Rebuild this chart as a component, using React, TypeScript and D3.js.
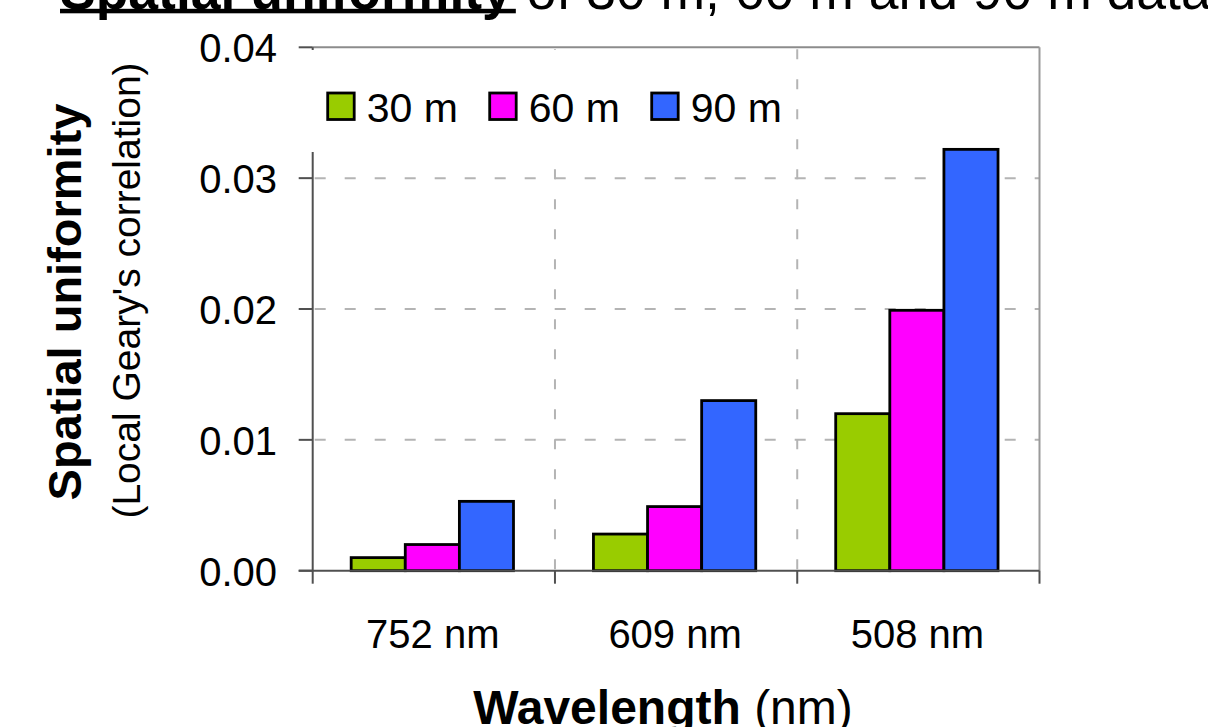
import React, { useEffect, useRef } from 'react';
import * as d3 from 'd3';

const categories = ['752 nm', '609 nm', '508 nm'];
const seriesNames = ['30 m', '60 m', '90 m'];
const seriesColors = ['#99CC00', '#FF00FF', '#3366FF'];
const values30 = [0.001, 0.0028, 0.012];
const values60 = [0.002, 0.0049, 0.0199];
const values90 = [0.0053, 0.013, 0.0322];
const yTicks = [0, 0.01, 0.02, 0.03, 0.04];
const yTickLabels = ['0.00', '0.01', '0.02', '0.03', '0.04'];
const titleBold = 'Spatial uniformity';
const titleRest = ' of 30 m, 60 m and 90 m data';

const W = 1208;
const H = 727;
const FONT = '"Liberation Sans", Arial, sans-serif';

export default function App() {
  const ref = useRef<SVGSVGElement | null>(null);

  useEffect(() => {
    const svg = d3.select(ref.current);
    svg.selectAll('*').remove();

    const left = 312.7, right = 1039.5, top = 47.3, bottom = 570.7;
    const x = d3.scaleBand<string>().domain(categories).range([left, right]).paddingInner(0).paddingOuter(0);
    const bw = x.bandwidth();
    const groupW = bw * 0.67;
    const xs = d3.scaleBand<string>().domain(seriesNames).range([(bw - groupW) / 2 - 1.5, (bw + groupW) / 2 - 1.5]).padding(0);
    const y = d3.scaleLinear().domain([0, 0.04]).range([bottom, top]);

    const series = [values30, values60, values90];

    // horizontal gridlines
    svg.append('g').selectAll('line').data(yTicks.filter(t => t > 0 && t < 0.04)).join('line')
      .attr('x1', left + 2).attr('x2', right).attr('y1', d => y(d)).attr('y2', d => y(d))
      .attr('stroke', '#b4b4b4').attr('stroke-width', 2).attr('stroke-dasharray', '11 19');

    // vertical dashed dividers
    const dividers = categories.slice(1).map(c => x(c) as number);
    svg.append('g').selectAll('line').data(dividers).join('line')
      .attr('x1', d => d).attr('x2', d => d).attr('y1', top + 2).attr('y2', bottom)
      .attr('stroke', '#b4b4b4').attr('stroke-width', 2).attr('stroke-dasharray', '10 20');

    // bars
    const bars = svg.append('g');
    series.forEach((vals, si) => {
      bars.append('g').selectAll('rect').data(vals).join('rect')
        .attr('x', (d, i) => (x(categories[i]) as number) + (xs(seriesNames[si]) as number))
        .attr('y', d => y(d))
        .attr('width', xs.bandwidth())
        .attr('height', d => y(0) - y(d))
        .attr('fill', seriesColors[si])
        .attr('stroke', '#000').attr('stroke-width', 2.8);
    });

    // frame top & right
    svg.append('line').attr('x1', left).attr('x2', right).attr('y1', top).attr('y2', top)
      .attr('stroke', '#8c8c8c').attr('stroke-width', 2);
    svg.append('line').attr('x1', right).attr('x2', right).attr('y1', top).attr('y2', bottom)
      .attr('stroke', '#9a9a9a').attr('stroke-width', 2);

    // left axis
    svg.append('line').attr('x1', left).attr('x2', left).attr('y1', top).attr('y2', bottom)
      .attr('stroke', '#505050').attr('stroke-width', 2);
    svg.append('g').selectAll('line').data(yTicks).join('line')
      .attr('x1', left - 14).attr('x2', left).attr('y1', d => y(d)).attr('y2', d => y(d))
      .attr('stroke', '#505050').attr('stroke-width', 2);
    svg.append('g').selectAll('text').data(yTicks).join('text')
      .attr('x', 277).attr('y', d => y(d) + 15)
      .attr('text-anchor', 'end').attr('font-family', FONT).attr('font-size', 40).attr('fill', '#000')
      .text((d, i) => yTickLabels[i]);

    // bottom axis
    svg.append('line').attr('x1', left - 14).attr('x2', right).attr('y1', bottom).attr('y2', bottom)
      .attr('stroke', '#505050').attr('stroke-width', 2);
    const xTickPos = [...categories.map(c => x(c) as number), right];
    svg.append('g').selectAll('line').data(xTickPos).join('line')
      .attr('x1', d => d).attr('x2', d => d).attr('y1', bottom).attr('y2', bottom + 13)
      .attr('stroke', '#505050').attr('stroke-width', 2);
    svg.append('g').selectAll('text').data(categories).join('text')
      .attr('x', d => (x(d) as number) + bw / 2 - 1).attr('y', 648)
      .attr('text-anchor', 'middle').attr('font-family', FONT).attr('font-size', 40).attr('fill', '#000')
      .text(d => d);

    // legend background (covers part of left axis)
    svg.append('rect').attr('x', 308).attr('y', 50).attr('width', 486).attr('height', 102).attr('fill', '#fff');
    const lg = svg.append('g');
    seriesNames.forEach((name, i) => {
      const lx = 327.7 + i * 162;
      lg.append('rect').attr('x', lx).attr('y', 93).attr('width', 26.5).attr('height', 26.5)
        .attr('fill', seriesColors[i]).attr('stroke', '#000').attr('stroke-width', 2.8);
      lg.append('text').attr('x', lx + 39).attr('y', 121.5)
        .attr('font-family', FONT).attr('font-size', 41).attr('fill', '#000').text(name);
    });

    // axis titles
    const xt = svg.append('text').attr('x', 663).attr('y', 724).attr('text-anchor', 'middle')
      .attr('font-family', FONT).attr('font-size', 48).attr('fill', '#000');
    xt.append('tspan').attr('font-weight', 'bold').text('Wavelength');
    xt.append('tspan').text(' (nm)');

    svg.append('text').attr('transform', 'translate(81,302) rotate(-90)').attr('text-anchor', 'middle')
      .attr('font-family', FONT).attr('font-size', 47).attr('font-weight', 'bold').attr('fill', '#000')
      .text('Spatial uniformity');
    svg.append('text').attr('transform', 'translate(140,290.5) rotate(-90)').attr('text-anchor', 'middle')
      .attr('font-family', FONT).attr('font-size', 39).attr('fill', '#000')
      .text("(Local Geary's correlation)");

    // title (cut off at top)
    const tt = svg.append('text').attr('x', 60).attr('y', 9)
      .attr('font-family', FONT).attr('font-size', 53.5).attr('fill', '#000');
    const tb = tt.append('tspan').attr('font-weight', 'bold').text(titleBold);
    tt.append('tspan').text(titleRest);
    const tbLen = (tb.node() as SVGTSpanElement).getComputedTextLength();
    svg.append('rect').attr('x', 60).attr('y', 8.8).attr('width', tbLen + 4).attr('height', 4.5).attr('fill', '#000');
  }, []);

  return (
    <svg ref={ref} width={W} height={H} style={{ position: 'absolute', left: 0, top: 0, background: '#fff' }} />
  );
}
